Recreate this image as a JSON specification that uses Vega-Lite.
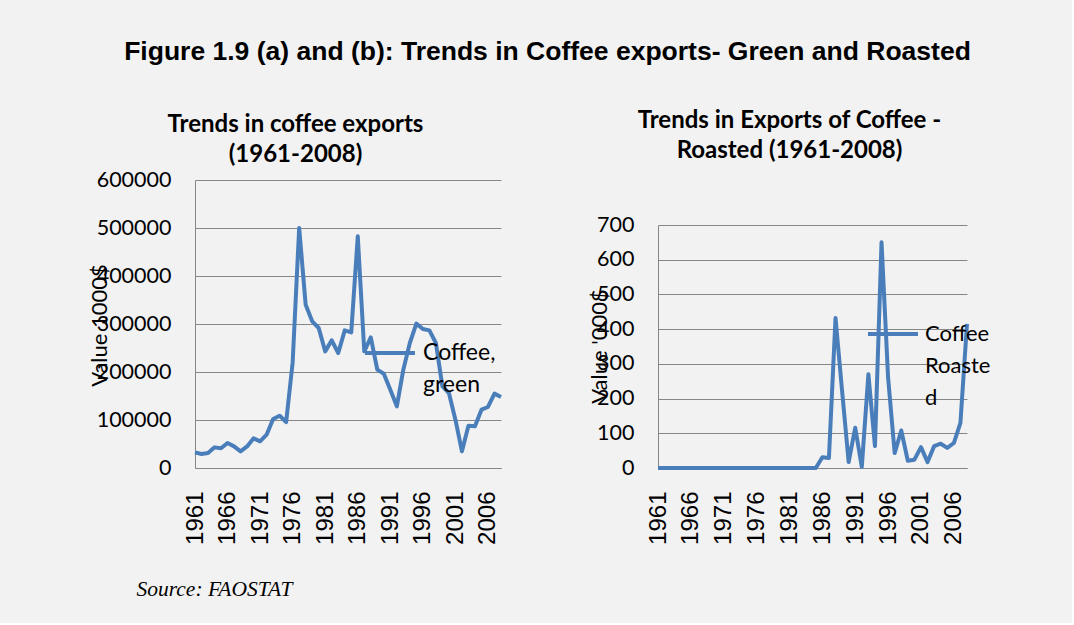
{
  "$schema": "https://vega.github.io/schema/vega-lite/v6.json",
  "background": "#f2f2f2",
  "padding": {"left": 88, "top": 38, "right": 81, "bottom": 23},
  "title": {
    "text": "Figure 1.9 (a) and (b): Trends in Coffee exports- Green and Roasted",
    "font": "Liberation Sans",
    "fontSize": 26.5,
    "fontWeight": "bold",
    "color": "#000000",
    "anchor": "middle",
    "dx": 8,
    "offset": 44
  },
  "data": {
    "values": [
      {"year": 1961, "green": 32600, "roasted": 0},
      {"year": 1962, "green": 29200, "roasted": 0},
      {"year": 1963, "green": 31300, "roasted": 0},
      {"year": 1964, "green": 43000, "roasted": 0},
      {"year": 1965, "green": 41000, "roasted": 0},
      {"year": 1966, "green": 52000, "roasted": 0},
      {"year": 1967, "green": 45000, "roasted": 0},
      {"year": 1968, "green": 34700, "roasted": 0},
      {"year": 1969, "green": 45000, "roasted": 0},
      {"year": 1970, "green": 61800, "roasted": 0},
      {"year": 1971, "green": 55600, "roasted": 0},
      {"year": 1972, "green": 69400, "roasted": 0},
      {"year": 1973, "green": 102000, "roasted": 0},
      {"year": 1974, "green": 109000, "roasted": 0},
      {"year": 1975, "green": 95800, "roasted": 0},
      {"year": 1976, "green": 220000, "roasted": 0},
      {"year": 1977, "green": 500000, "roasted": 0},
      {"year": 1978, "green": 340000, "roasted": 0},
      {"year": 1979, "green": 305600, "roasted": 0},
      {"year": 1980, "green": 291700, "roasted": 0},
      {"year": 1981, "green": 243000, "roasted": 0},
      {"year": 1982, "green": 266000, "roasted": 0},
      {"year": 1983, "green": 239600, "roasted": 0},
      {"year": 1984, "green": 286800, "roasted": 0},
      {"year": 1985, "green": 282600, "roasted": 0},
      {"year": 1986, "green": 482600, "roasted": 31},
      {"year": 1987, "green": 243000, "roasted": 29},
      {"year": 1988, "green": 272000, "roasted": 432},
      {"year": 1989, "green": 204900, "roasted": 222},
      {"year": 1990, "green": 196500, "roasted": 17},
      {"year": 1991, "green": 163200, "roasted": 116},
      {"year": 1992, "green": 128500, "roasted": 3},
      {"year": 1993, "green": 204900, "roasted": 270},
      {"year": 1994, "green": 260400, "roasted": 63},
      {"year": 1995, "green": 300700, "roasted": 650},
      {"year": 1996, "green": 289600, "roasted": 260},
      {"year": 1997, "green": 286800, "roasted": 43},
      {"year": 1998, "green": 260400, "roasted": 108},
      {"year": 1999, "green": 170100, "roasted": 21},
      {"year": 2000, "green": 156300, "roasted": 24},
      {"year": 2001, "green": 100700, "roasted": 60},
      {"year": 2002, "green": 34700, "roasted": 17},
      {"year": 2003, "green": 88200, "roasted": 63},
      {"year": 2004, "green": 86800, "roasted": 70},
      {"year": 2005, "green": 121500, "roasted": 58},
      {"year": 2006, "green": 127100, "roasted": 72},
      {"year": 2007, "green": 154900, "roasted": 130},
      {"year": 2008, "green": 147900, "roasted": 415}
    ]
  },
  "spacing": 85,
  "hconcat": [
    {
      "width": 306,
      "height": 288,
      "title": {
        "text": ["Trends in coffee exports", "(1961-2008)"],
        "font": "Lato",
        "fontSize": 24,
        "fontWeight": "bold",
        "color": "#000000",
        "frame": "bounds",
        "anchor": "middle",
        "lineHeight": 30,
        "offset": 2
      },
      "mark": {"type": "line", "strokeWidth": 4, "strokeJoin": "round"},
      "encoding": {
        "x": {
          "field": "year",
          "type": "quantitative",
          "scale": {"domain": [1961, 2008], "nice": false, "zero": false},
          "axis": {
            "values": [1961, 1966, 1971, 1976, 1981, 1986, 1991, 1996, 2001, 2006],
            "format": "d",
            "labelAngle": -90,
            "labelFont": "Liberation Sans",
            "labelFontSize": 24,
            "labelPadding": 23,
            "grid": false,
            "title": "Source: FAOSTAT",
            "titleFont": "Liberation Serif",
            "titleFontStyle": "italic",
            "titleFontWeight": "normal",
            "titleFontSize": 21.5,
            "titleAlign": "left",
            "titleBaseline": "alphabetic",
            "titleX": -59,
            "titleY": 127
          }
        },
        "y": {
          "field": "green",
          "type": "quantitative",
          "scale": {"domain": [0, 600000], "nice": false},
          "axis": {
            "values": [0, 100000, 200000, 300000, 400000, 500000, 600000],
            "format": "d",
            "labelFont": "Lato",
            "labelFontSize": 21.5,
            "labelPadding": 24,
            "title": "Value 1000$",
            "titleFont": "Lato",
            "titleFontSize": 22,
            "titleFontWeight": "normal",
            "titleBaseline": "middle",
            "titleX": -96,
            "titleY": 145
          }
        },
        "color": {
          "datum": "Coffee, green",
          "scale": {"range": ["#4a7ebb"]},
          "legend": {
            "orient": "none",
            "legendX": 168,
            "legendY": 146,
            "title": null,
            "symbolType": "stroke",
            "symbolSize": 2500,
            "symbolStrokeWidth": 4,
            "labelFont": "Lato",
            "labelFontSize": 23,
            "labelColor": "#000000",
            "labelOffset": 6,
            "labelExpr": "['Coffee,', 'green']"
          }
        }
      }
    },
    {
      "width": 309,
      "height": 288,
      "title": {
        "text": ["Trends in Exports of Coffee -", "Roasted (1961-2008)"],
        "font": "Lato",
        "fontSize": 24,
        "fontWeight": "bold",
        "color": "#000000",
        "frame": "bounds",
        "anchor": "middle",
        "lineHeight": 30,
        "offset": 17
      },
      "mark": {"type": "line", "strokeWidth": 4, "strokeJoin": "round"},
      "encoding": {
        "x": {
          "field": "year",
          "type": "quantitative",
          "scale": {"domain": [1961, 2008], "nice": false, "zero": false},
          "axis": {
            "values": [1961, 1966, 1971, 1976, 1981, 1986, 1991, 1996, 2001, 2006],
            "format": "d",
            "labelAngle": -90,
            "labelFont": "Liberation Sans",
            "labelFontSize": 24,
            "labelPadding": 23,
            "grid": false,
            "title": null
          }
        },
        "y": {
          "field": "roasted",
          "type": "quantitative",
          "scale": {"domain": [0, 700], "nice": false, "range": [288, 45]},
          "axis": {
            "values": [0, 100, 200, 300, 400, 500, 600, 700],
            "format": "d",
            "labelFont": "Lato",
            "labelFontSize": 21.5,
            "labelPadding": 24,
            "title": "Value '000$",
            "titleFont": "Lato",
            "titleFontSize": 22,
            "titleFontWeight": "normal",
            "titleBaseline": "middle",
            "titleX": -59,
            "titleY": 166
          }
        },
        "color": {
          "datum": "Coffee Roasted",
          "scale": {"range": ["#4a7ebb"]},
          "legend": {
            "orient": "none",
            "legendX": 208,
            "legendY": 127,
            "title": null,
            "symbolType": "stroke",
            "symbolSize": 2500,
            "symbolStrokeWidth": 4,
            "labelFont": "Lato",
            "labelFontSize": 22,
            "labelColor": "#000000",
            "labelOffset": 5,
            "labelExpr": "['Coffee', 'Roaste', 'd']"
          }
        }
      }
    }
  ],
  "resolve": {"scale": {"color": "independent", "x": "independent", "y": "independent"}, "legend": {"color": "independent"}},
  "config": {
    "view": {"stroke": null},
    "axis": {
      "gridColor": "#868686",
      "domainColor": "#868686",
      "ticks": false,
      "labelColor": "#000000",
      "titleColor": "#000000"
    },
    "style": {"guide-label": {"lineHeight": 32}}
  }
}
